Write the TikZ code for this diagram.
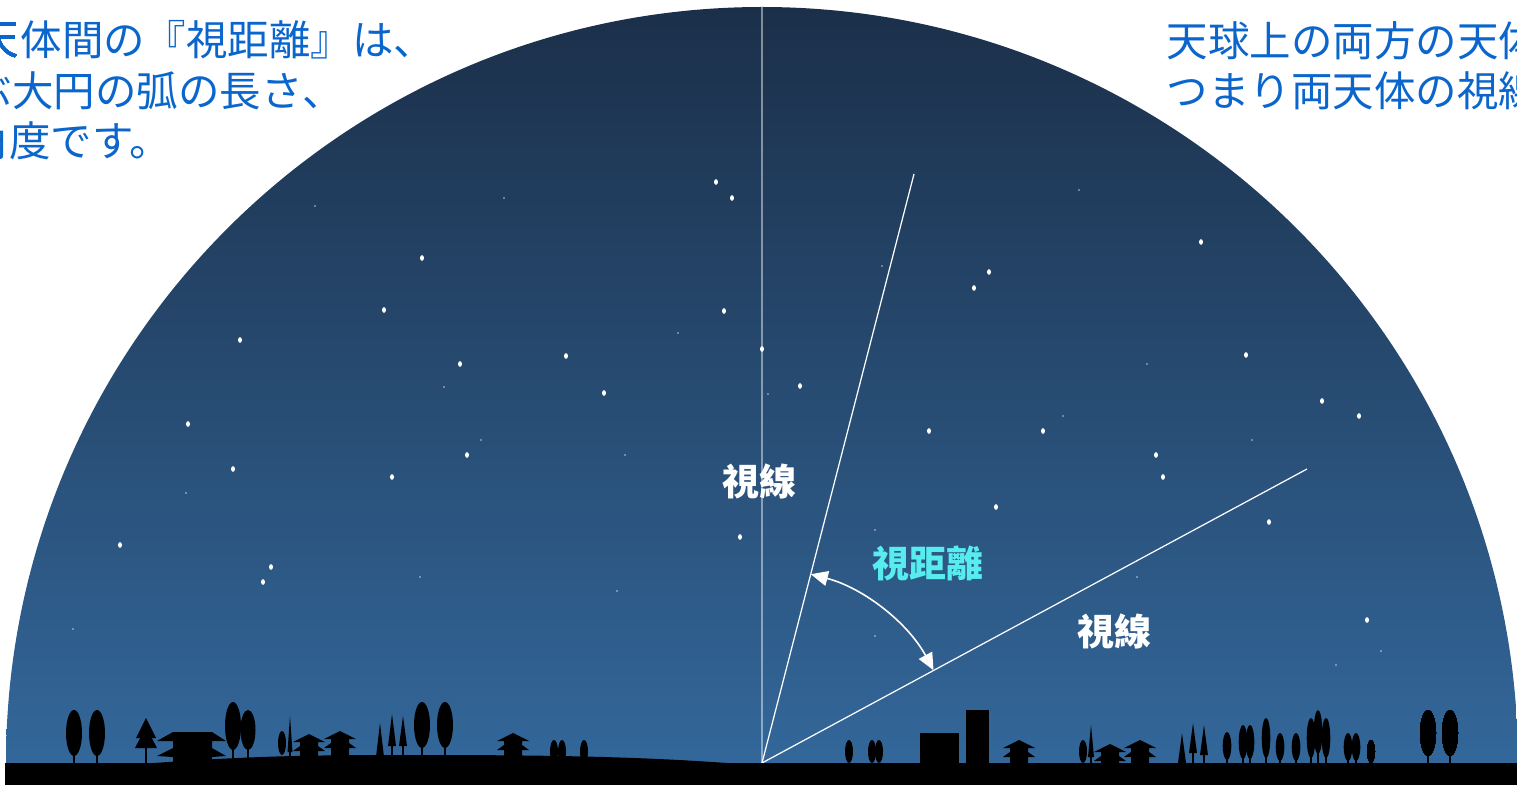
\documentclass[tikz,border=0pt]{standalone}
\usepackage{fontspec}
\usepackage{tikz}
\usetikzlibrary{arrows.meta}
\newfontfamily\jp{Noto Sans CJK JP}
\newfontfamily\jpb{Noto Sans CJK SC}
\definecolor{skytop}{RGB}{27,47,73}
\definecolor{skybottom}{RGB}{51,103,154}
\definecolor{textblue}{RGB}{10,102,204}
\definecolor{labelcyan}{RGB}{88,236,238}
% silhouettes on the horizon (units are 0.1mm, y pointing down)
\newcommand{\tree}[4]{% x, top, half width, half height
    \fill (#1-0.16*#3,#2+1.8*#4) rectangle (#1+0.16*#3,763);
    \fill (#1,#2+#4) ellipse [x radius=#3, y radius=#4];}
\newcommand{\bush}[3]{% x, top, half width
    \fill (#1,{(#2+763)/2}) ellipse [x radius=#3, y radius={(763-#2)/2}];}
\newcommand{\conifer}[4]{% x, top, half width, foot of the cone
    \fill (#1-#3,#4) -- (#1,#2) -- (#1+#3,#4) -- cycle;
    \fill (#1-0.7,#4-2) rectangle (#1+0.7,763);}
\newcommand{\pagoda}[2]{% x, top of the roof
    \fill (#1,#2) -- ++(16,8) -- ++(-7,0) -- ++(0,4) -- ++(7,5) -- ++(-7,0)
      -- (#1+9,763) -- (#1-9,763) -- ++(0,{-(763-#2-17)}) -- ++(-7,0) -- ++(7,-5)
      -- ++(0,-4) -- ++(-7,0) -- cycle;}
\tikzset{
    skytext/.style={text=textblue, anchor=west, inner sep=0pt,
        font=\jp\fontsize{11.8}{14}\selectfont},
    sightlabel/.style={text=white, inner sep=0pt,
        font=\jpb\bfseries\fontsize{10.5}{12}\selectfont},
    sightline/.style={white, line width=0.35pt},
    bigstar/.style={fill=white},
    smallstar/.style={fill=white, opacity=0.7},
}

\begin{document}
\begin{tikzpicture}[x=0.1mm,y=-0.1mm]
    \useasboundingbox (0,0) rectangle (1517,785);
    \clip (0,0) rectangle (1517,785);
    % night sky
    \shade[top color=skytop, bottom color=skybottom]
        (6,763) arc [start angle=180, end angle=360, radius=756] -- cycle;
    % stars
    \foreach \x/\y in {716/182,732/198,422/258,384/310,724/311,240/340,762/349,
        566/356,460/364,800/386,604/393,188/424,467/455,233/469,392/477,120/545,
        740/537,271/567,263/582,989/272,974/288,1201/242,1246/355,1322/401,
        1359/416,929/431,1043/431,1156/455,1163/477,996/507,1269/522,1367/620}
        \fill[bigstar] (\x,\y) ellipse [x radius=2, y radius=2.8];
    \foreach \x/\y in {315/206,504/198,444/387,481/440,186/493,625/455,678/333,
        768/394,420/577,617/591,73/629,1079/190,882/266,1147/364,1063/416,
        1252/440,875/530,875/636,1137/577,1336/665,1381/651}
        \fill[smallstar] (\x,\y) circle (0.9);
    % zenith and the two lines of sight
    \coordinate (eye) at (762,763);
    \coordinate (zenith) at (762,7);
    \coordinate (starA) at (914,174);
    \coordinate (starB) at (1307,469);
    \draw[white, opacity=0.45, line width=0.3pt] (zenith) -- (eye);
    \draw[sightline] (eye) -- (starA);
    \draw[sightline] (eye) -- (starB);
    \draw[white, line width=0.45pt, {Triangle[length=1.7mm,width=1.5mm]}-{Triangle[length=1.7mm,width=1.5mm]}]
        ([shift={(284.5:195)}]eye) arc [start angle=284.5, end angle=331.6, radius=195];
    \node[sightlabel] (lineA) at (759,481) {視線};
    \node[sightlabel] (lineB) at (1114,631) {視線};
    \node[sightlabel, text=labelcyan] (dist) at (928,563) {視距離};
    % horizon
    \fill (5,763) rectangle (1517,786);
    \fill (140,764) .. controls (250,756) and (300,755) .. (420,755)
        .. controls (560,755) and (650,757) .. (740,764) -- cycle;
    \tree{74}{710}{8}{23}
    \tree{97}{710}{8}{23}
    \fill (146,718) -- (156,738) -- (136,738) -- cycle;
    \fill (146,727) -- (157,748) -- (135,748) -- cycle;
    \fill (145.3,745) rectangle (146.7,763);
    \fill (173,732) -- (212,732) -- (226,741) -- (212,741) -- (212,748) -- (226,756)
        -- (212,757) -- (212,763) -- (173,763) -- (173,757) -- (157,756)
        -- (173,748) -- (173,741) -- (157,741) -- cycle;
    \tree{233}{702}{8}{24}
    \tree{248}{710}{7.5}{20}
    \fill (282,743) ellipse [x radius=4, y radius=12];
    \conifer{290}{716}{2.5}{752}
    \pagoda{309}{734}
    \pagoda{340}{731}
    \fill (376,757) -- (380,723) -- (384,757) -- cycle;
    \conifer{392}{714}{4}{746}
    \conifer{403}{716}{4}{746}
    \tree{422}{702}{8}{23}
    \tree{445}{702}{8}{23}
    \pagoda{513}{733}
    \bush{554}{740}{4}
    \bush{562}{740}{4}
    \bush{584}{740}{4}
    \bush{849}{740}{4}
    \bush{872}{740}{4}
    \bush{879}{740}{4}
    \fill (920,733) rectangle (959,763);
    \fill (966,710) rectangle (989,763);
    \pagoda{1019}{740}
    \bush{1083}{740}{4}
    \conifer{1091}{725}{3}{757}
    \pagoda{1110}{744}
    \pagoda{1140}{740}
    \fill (1178,763) -- (1182,733) -- (1186,763) -- cycle;
    \conifer{1193}{723}{4}{753}
    \conifer{1204}{725}{4}{755}
    \foreach \x/\y/\h in {1227/732/14,1243/725/17,1250/725/17,1266/718/20,
        1280/733/14,1296/733/14,1311/718/20,1318/710/22,1326/718/20,
        1348/733/14,1356/733/14}
        \tree{\x}{\y}{4.3}{\h}
    \bush{1371}{740}{4}
    \tree{1428}{710}{8}{23}
    \tree{1450}{710}{8}{23}
    % captions (the first line is set in two pieces, its head runs off the left edge)
    \node[skytext] (capL1a) at (-23,40) {天};
    \node[skytext] (capL1) at (capL1a.east) {体間の『視距離』は、};
    \node[skytext] (capL2) at (-30,91) {ぶ大円の弧の長さ、};
    \node[skytext] (capL3) at (-33,141) {角度です。};
    \node[skytext] (capR1) at (1166,41) {天球上の両方の天体};
    \node[skytext] (capR2) at (1166,91) {つまり両天体の視線};
\end{tikzpicture}
\end{document}
